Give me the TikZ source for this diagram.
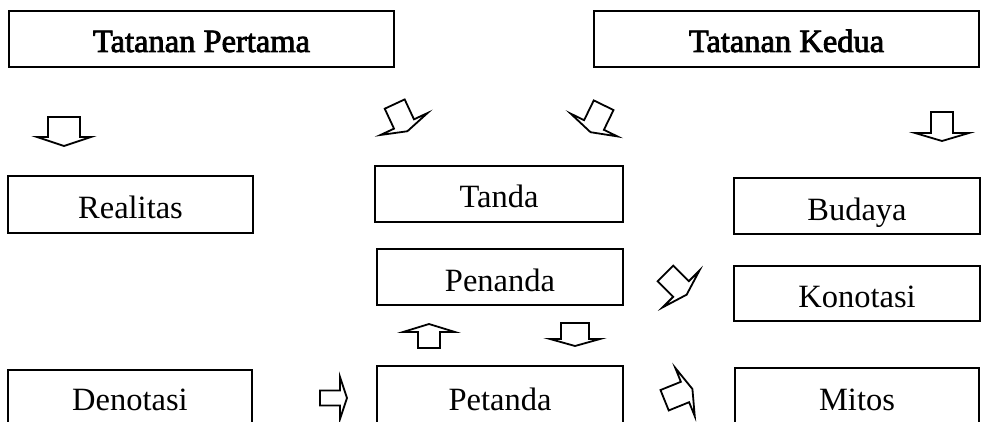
\documentclass[tikz,border=0pt]{standalone}
\usepackage{fontspec}
\setmainfont{Liberation Serif}
\newfontfamily\headfont[FakeBold=2.5]{Liberation Serif}
\tikzset{
  box/.style={draw, line width=1.8pt, inner sep=0pt, outer sep=0pt},
  lbl/.style={anchor=base, inner sep=0pt, font=\fontsize{32.5}{39}\selectfont},
  hlbl/.style={anchor=base, inner sep=0pt, font=\headfont\fontsize{32.5}{39}\selectfont},
  barrow/.style={draw, line width=1.8pt, line join=miter, miter limit=12}
}
% block arrow pointing down before rotation:
% #1,#2 = centre of the head base, #3 = angle, #4 = body width,
% #5 = body length, #6 = head half-width, #7 = head length
\newcommand\blockarrow[7]{%
  \begin{scope}[shift={(#1,#2)}, rotate=#3]
    \draw[barrow] (-#4/2,-#5) -- (#4/2,-#5) -- (#4/2,0) -- (#6,0) -- (0,#7)
      -- (-#6,0) -- (-#4/2,0) -- cycle;
  \end{scope}}
\begin{document}
\begin{tikzpicture}[x=1pt,y=-1pt]
\useasboundingbox (0,0) rectangle (981,422);
\clip (0,0) rectangle (981,422);

% headers
\node[box, minimum width=385pt, minimum height=56pt] (pertama) at (201.5,39) {};
\node[hlbl] (pertamaT) at (201.5,52) {Tatanan Pertama};
\node[box, minimum width=385pt, minimum height=56pt] (kedua) at (786.5,39) {};
\node[hlbl] (keduaT) at (786.5,52) {Tatanan Kedua};

% left column
\node[box, minimum width=245pt, minimum height=57pt] (realitas) at (130.5,204.5) {};
\node[lbl] (realitasT) at (130.5,218) {Realitas};
\node[box, minimum width=244pt, minimum height=60pt] (denotasi) at (130,400) {};
\node[lbl] (denotasiT) at (130,410) {Denotasi};

% middle column
\node[box, minimum width=248pt, minimum height=56pt] (tanda) at (499,194) {};
\node[lbl] (tandaT) at (499,207) {Tanda};
\node[box, minimum width=246pt, minimum height=56pt] (penanda) at (500,277) {};
\node[lbl] (penandaT) at (500,291) {Penanda};
\node[box, minimum width=246pt, minimum height=64pt] (petanda) at (500,398) {};
\node[lbl] (petandaT) at (500,410) {Petanda};

% right column
\node[box, minimum width=246pt, minimum height=56pt] (budaya) at (857,206) {};
\node[lbl] (budayaT) at (857,220) {Budaya};
\node[box, minimum width=246pt, minimum height=55pt] (konotasi) at (857,293.5) {};
\node[lbl] (konotasiT) at (857,307) {Konotasi};
\node[box, minimum width=244pt, minimum height=62pt] (mitos) at (857,399) {};
\node[lbl] (mitosT) at (857,410) {Mitos};

% block arrows
\blockarrow{64}{137}{0}{32}{20}{27}{9}
\blockarrow{942}{133}{0}{22}{21}{27}{8}
\blockarrow{404}{124}{25}{22}{22}{26}{8}
\blockarrow{594}{125}{-26}{22}{22}{26}{8}
\blockarrow{681}{289}{45}{22}{22}{26}{8}
\blockarrow{685}{392}{112}{22}{22}{26}{8}
\blockarrow{429}{332}{180}{22}{16}{26}{8}
\blockarrow{575}{339}{0}{28}{16}{25}{7}
\blockarrow{340}{398}{90}{15}{20}{21}{7}
\end{tikzpicture}
\end{document}
